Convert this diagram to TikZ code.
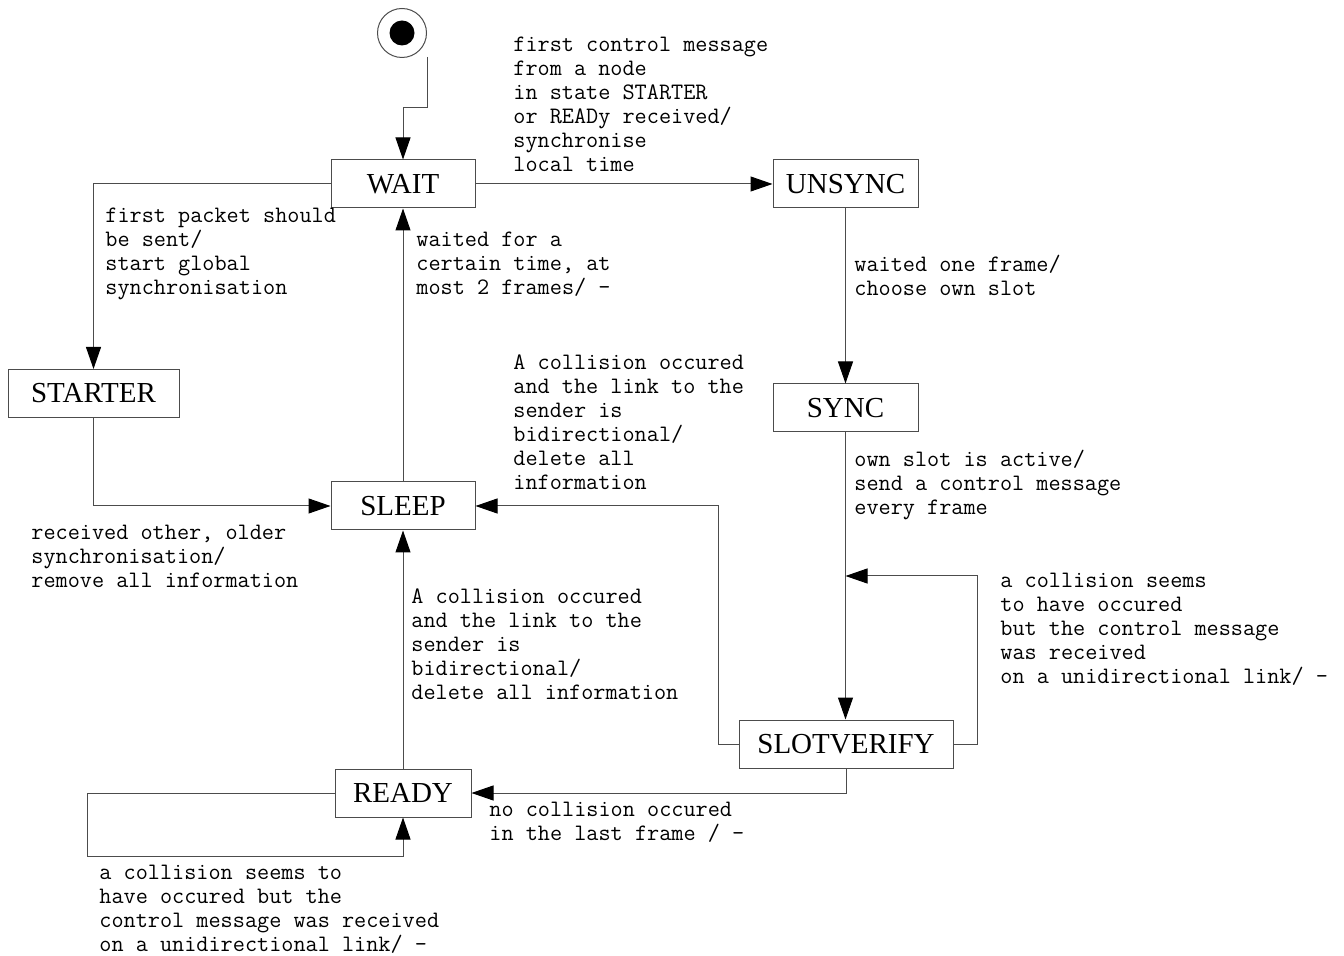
\documentclass[tikz,border=0pt]{standalone}
\usepackage{fontspec}
\setmainfont{Liberation Serif}
\usetikzlibrary{arrows.meta}
\begin{document}
\begin{tikzpicture}[x=0.5pt,y=-0.5pt,
 state/.style={draw=black!70, line width=0.5pt, minimum height=24pt, inner sep=0pt, font=\fontsize{14.5}{16}\selectfont},
 lbl/.style={anchor=north west, inner sep=0pt, align=left, font=\ttfamily\fontsize{11.78}{12}\selectfont},
 conn/.style={draw=black!70, line width=0.5pt, -{Triangle[length=11pt,width=7.5pt,fill=black,color=black]}},
]
\useasboundingbox (0,0) rectangle (1344,956);
% initial state
\node[circle, draw=black!70, line width=0.5pt, minimum size=24.5pt, inner sep=0pt] (init) at (402,33) {};
\node[circle, fill=black, minimum size=12.5pt, inner sep=0pt] (initdot) at (402,33) {};
\coordinate (i0) at (427,57);
% states
\node[state, minimum width=72pt] (wait) at (403,184) {WAIT};
\node[state, minimum width=72.5pt] (unsync) at (845.5,184) {UNSYNC};
\node[state, minimum width=85.5pt] (starter) at (93.5,393.5) {STARTER};
\node[state, minimum width=72pt] (sleep) at (403,506) {SLEEP};
\node[state, minimum width=72.5pt] (sync) at (845.5,408) {SYNC};
\node[state, minimum width=107pt] (slotverify) at (846,744) {SLOTVERIFY};
\node[state, minimum width=68pt] (ready) at (403,793) {READY};
\coordinate (svin) at (845.5,576);
% connectors
\draw[conn] (i0) -- ++(0,51) -| (wait.north);
\draw[conn] (wait) -- (unsync);
\draw[conn] (wait.west) -| (starter.north);
\draw[conn] (starter.south) |- (sleep.west);
\draw[conn] (sleep) -- (wait);
\draw[conn] (unsync) -- (sync);
\draw[conn] (sync.south) -- (sync.south |- slotverify.north);
\draw[conn] (slotverify.east) -- ++(24,0) |- (svin);
\draw[conn] (slotverify.west) -- ++(-20,0) |- (sleep.east);
\draw[conn] (slotverify.south) |- (ready.east);
\draw[conn] (ready) -- (sleep);
\draw[conn] (ready.west) -| (87,856) -| (ready.south);
% labels
\node[lbl] (l1) at (513,37) {first control message\\from a node\\in state STARTER\\or READy received/\\synchronise\\local time};
\node[lbl] (l2) at (105,208) {first packet should\\be sent/\\start global\\synchronisation};
\node[lbl] (l3) at (416,232) {waited for a\\certain time, at\\most 2 frames/ -};
\node[lbl] (l4) at (854,255) {waited one frame/\\choose own slot};
\node[lbl] (l5) at (513,354) {A collision occured\\and the link to the\\sender is\\bidirectional/\\delete all\\information};
\node[lbl] (l6) at (854,450) {own slot is active/\\send a control message\\every frame};
\node[lbl] (l7) at (31,525) {received other, older\\synchronisation/\\remove all information};
\node[lbl] (l8) at (1000,573) {a collision seems\\to have occured\\but the control message\\was received\\on a unidirectional link/ -};
\node[lbl] (l9) at (411,588) {A collision occured\\and the link to the\\sender is\\bidirectional/\\delete all information};
\node[lbl] (l10) at (489,802) {no collision occured\\in the last frame / -};
\node[lbl] (l11) at (99,865) {a collision seems to\\have occured but the\\control message was received\\on a unidirectional link/ -};
\end{tikzpicture}
\end{document}
